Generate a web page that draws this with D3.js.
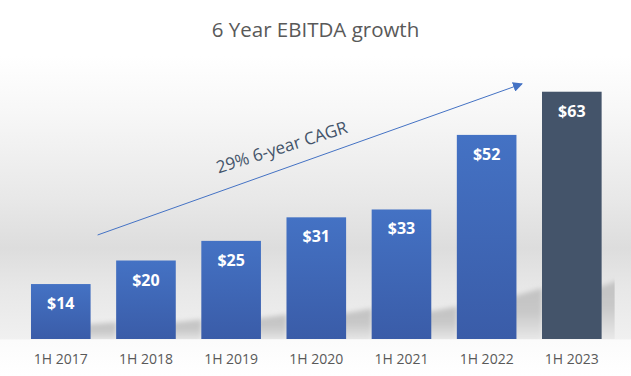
<!DOCTYPE html>
<html>
<head>
<meta charset="utf-8">
<script src="https://cdn.jsdelivr.net/npm/d3@7"></script>
<style>
  html, body { margin: 0; padding: 0; background: #fff; }
  svg { display: block; }
</style>
</head>
<body>
<svg id="chart" width="631" height="376"></svg>
<script>
const categories = ["1H 2017", "1H 2018", "1H 2019", "1H 2020", "1H 2021", "1H 2022", "1H 2023"];
const ebitda = [14, 20, 25, 31, 33, 52, 63];
const valueLabels = ["$14", "$20", "$25", "$31", "$33", "$52", "$63"];
const title = "6 Year EBITDA growth";
const cagrLabel = "29% 6-year CAGR";

const width = 631;
const height = 376;
const svg = d3.select("#chart");

const x = d3
  .scaleBand()
  .domain(categories)
  .range([18.2, 614.4])
  .paddingInner(0.3)
  .paddingOuter(0.15);

const y = d3.scaleLinear().domain([0, 70]).range([339, 64.25]);
const base = y(0);

const defs = svg.append("defs");

// background gradient
const bg = defs
  .append("linearGradient")
  .attr("id", "bg")
  .attr("x1", 0).attr("x2", 0).attr("y1", 0).attr("y2", 1);
[
  [0, "#ffffff"],
  [0.15, "#ffffff"],
  [0.3, "#f7f7f7"],
  [0.53, "#e8e8e8"],
  [0.66, "#dddddd"],
  [0.76, "#e7e7e7"],
  [0.9, "#f0f0f0"],
  [0.905, "#fbfbfb"],
  [1, "#ffffff"],
].forEach(([o, c]) => bg.append("stop").attr("offset", o).attr("stop-color", c));

// bar gradient
const barGrad = defs
  .append("linearGradient")
  .attr("id", "bar")
  .attr("x1", 0).attr("x2", 0).attr("y1", 0).attr("y2", 1);
barGrad.append("stop").attr("offset", "0%").attr("stop-color", "#4472c4");
barGrad.append("stop").attr("offset", "100%").attr("stop-color", "#3a5ca8");

// shadow gradient
const shGrad = defs
  .append("linearGradient")
  .attr("id", "shadow")
  .attr("x1", 0).attr("x2", 0).attr("y1", 0).attr("y2", 1);
shGrad.append("stop").attr("offset", "0%").attr("stop-color", "#c2c2c2");
shGrad.append("stop").attr("offset", "45%").attr("stop-color", "#c8c8c8");
shGrad.append("stop").attr("offset", "100%").attr("stop-color", "#ebebeb");

defs
  .append("filter")
  .attr("id", "blur")
  .attr("x", "-20%").attr("y", "-20%").attr("width", "140%").attr("height", "140%")
  .append("feGaussianBlur")
  .attr("stdDeviation", 2.5);

const plotRight = x(categories[categories.length - 1]) + x.bandwidth() + 13;
defs
  .append("clipPath")
  .attr("id", "plotclip")
  .append("rect")
  .attr("x", 0)
  .attr("y", 0)
  .attr("width", plotRight)
  .attr("height", base);

svg.append("rect").attr("width", width).attr("height", height).attr("fill", "url(#bg)");

// title
svg
  .append("text")
  .attr("x", width / 2)
  .attr("y", 37)
  .attr("text-anchor", "middle")
  .style("font-family", "Open Sans")
  .style("font-size", "20.5px")
  .style("fill", "#595959")
  .text(title);

// bar shadows
svg
  .append("g")
  .attr("clip-path", "url(#plotclip)")
  .selectAll("path")
  .data(ebitda)
  .enter()
  .append("path")
  .attr("d", (d, i) => {
    const x1 = x(categories[i]) + x.bandwidth();
    const h = base - y(d);
    const t = Math.max(0.2 * h, 14);
    const k = 0.05 * h;
    return `M${x1 - 10},${base + 3}L${x1 - 10},${base - t}L${x1 + 26},${base - t - k}L${x1 + 26},${base + 3}Z`;
  })
  .attr("fill", "url(#shadow)")
  .attr("filter", "url(#blur)");

// bars
svg
  .append("g")
  .selectAll("rect")
  .data(ebitda)
  .enter()
  .append("rect")
  .attr("x", (d, i) => x(categories[i]))
  .attr("y", (d) => y(d))
  .attr("width", x.bandwidth())
  .attr("height", (d) => base - y(d))
  .attr("fill", (d, i) => (i === categories.length - 1 ? "#44546a" : "url(#bar)"));

// value labels
svg
  .append("g")
  .selectAll("text")
  .data(ebitda)
  .enter()
  .append("text")
  .attr("x", (d, i) => x(categories[i]) + x.bandwidth() / 2)
  .attr("y", (d) => y(d) + 25)
  .attr("text-anchor", "middle")
  .style("font-family", "Open Sans")
  .style("font-weight", "700")
  .style("font-size", "16px")
  .style("fill", "#ffffff")
  .text((d, i) => valueLabels[i]);

// category axis
const xAxis = svg
  .append("g")
  .attr("transform", `translate(0, ${base})`)
  .call(d3.axisBottom(x).tickSize(0).tickPadding(15));
xAxis.select(".domain").remove();
xAxis
  .selectAll("text")
  .style("font-family", "Open Sans")
  .style("font-size", "14px")
  .style("fill", "#595959");

// CAGR arrow
const ax0 = x(categories[0]) + x.bandwidth() + 7;
const ay0 = y(26.5);
const ax1 = x(categories[categories.length - 1]) - 20;
const ay1 = y(65);

defs
  .append("marker")
  .attr("id", "arrowhead")
  .attr("viewBox", "0 0 10 10")
  .attr("refX", 9)
  .attr("refY", 5)
  .attr("markerWidth", 10)
  .attr("markerHeight", 10)
  .attr("markerUnits", "userSpaceOnUse")
  .attr("orient", "auto")
  .append("path")
  .attr("d", "M0,0L10,5L0,10Z")
  .attr("fill", "#4472c4");

svg
  .append("line")
  .attr("x1", ax0)
  .attr("y1", ay0)
  .attr("x2", ax1)
  .attr("y2", ay1)
  .attr("stroke", "#4472c4")
  .attr("stroke-width", 1)
  .attr("marker-end", "url(#arrowhead)");

svg
  .append("text")
  .attr("transform", `translate(${x(categories[3]) - 3}, ${y(47.4)}) rotate(-17.5)`)
  .attr("text-anchor", "middle")
  .style("font-family", "Open Sans")
  .style("font-size", "17px")
  .style("fill", "#44546a")
  .text(cagrLabel);
</script>
</body>
</html>
